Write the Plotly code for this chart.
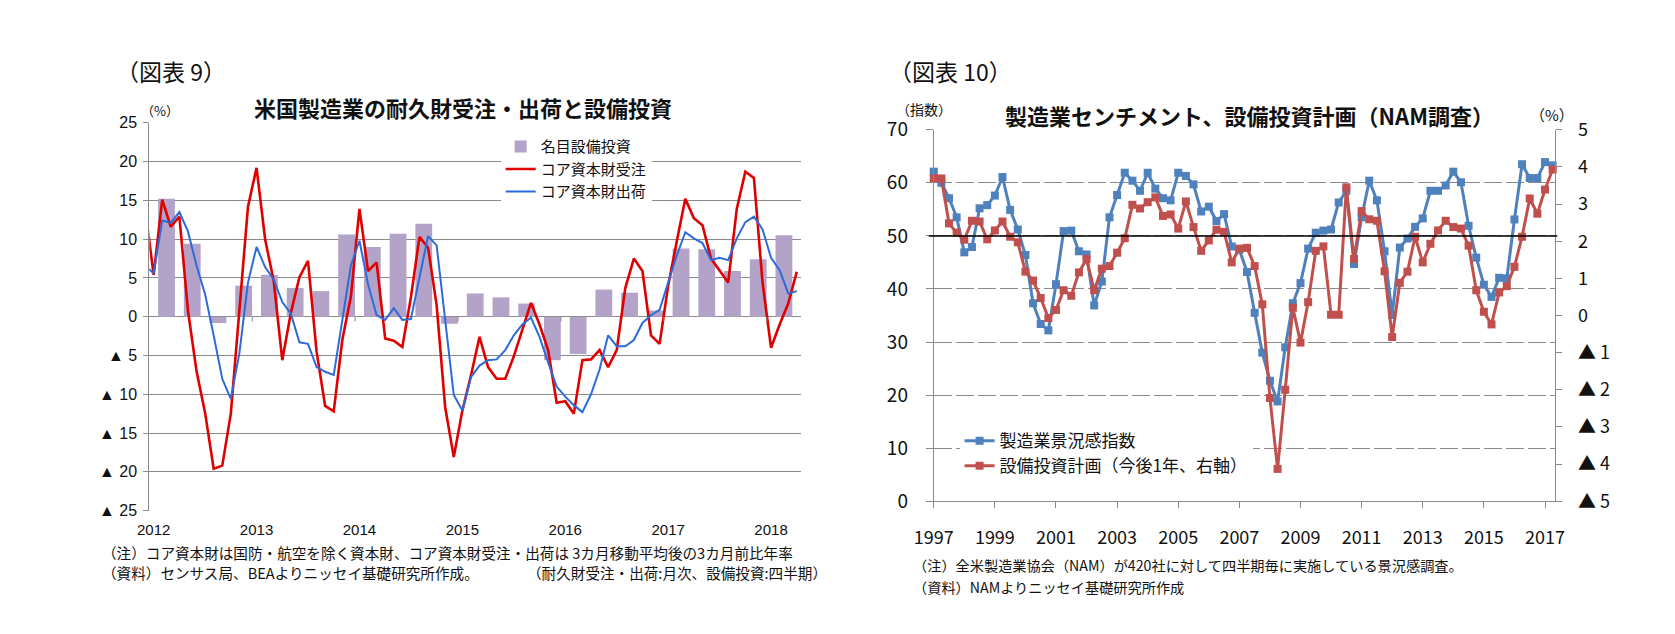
import plotly.graph_objects as go

# --- 図表9: 月次データ (2011年12月～2018年4月), 四半期データ (2012Q1～2018Q1)
start_year = 2012
first_month = -1  # 2011年12月から
orders = [14.0, 5.4, 15.1, 11.6, 12.9, 0.8, -7.0, -12.4, -19.6, -19.2, -12.5,
          0.5, 14.2, 19.2, 10.0, 4.6, -5.6, 0.5, 5.1, 7.2, -4.5,
          -11.5, -12.2, -3.0, 2.6, 13.9, 5.9, 7.0, -2.8, -3.1, -3.9,
          2.5, 10.3, 8.9, 1.5, -11.7, -18.1, -12.1, -7.6, -2.6, -6.5,
          -8.0, -8.0, -5.1, -1.8, 1.8, -1.0, -4.3, -11.1, -10.9, -12.5,
          -5.6, -5.5, -4.3, -6.5, -4.3, 3.7, 7.5, 5.9, -2.4, -3.5,
          4.0, 9.7, 15.2, 12.7, 11.8, 7.5, 6.0, 4.4, 13.9, 18.7,
          17.9, 4.5, -4.0, -1.0, 1.7, 5.8]
shipments = [6.6, 5.6, 12.4, 12.1, 13.5, 11.0, 6.6, 2.9, -2.4, -8.0, -10.6,
             -4.7, 4.4, 9.0, 6.4, 4.8, 1.9, 0.4, -3.3, -3.5, -6.5,
             -7.1, -7.5, -0.7, 6.6, 9.8, 4.2, 0.2, -0.4, 1.1, -0.4,
             -0.3, 4.9, 10.4, 9.2, -0.5, -10.1, -12.1, -7.8, -6.3, -5.6,
             -5.5, -4.3, -2.4, -1.0, -0.1, -2.6, -5.9, -9.0, -10.3, -11.4,
             -12.3, -10.0, -6.8, -2.4, -3.8, -3.8, -3.0, -0.8, 0.2, 0.9,
             4.4, 7.9, 10.9, 10.1, 9.5, 7.3, 7.6, 7.3, 10.1, 12.2,
             12.9, 11.3, 7.6, 6.0, 3.0, 3.3]
capex = [15.2, 9.4, -0.8, 4.0, 5.4, 3.7, 3.3, 10.6, 9.0, 10.7, 12.0, -0.9,
         3.0, 2.5, 1.7, -5.6, -4.8, 3.5, 3.1, 0.8, 8.8, 8.7, 5.9, 7.4, 10.5]
years9 = [2012, 2013, 2014, 2015, 2016, 2017, 2018]
yticks9 = [25, 20, 15, 10, 5, 0, -5, -10, -15, -20, -25]

# --- 図表10: 四半期データ (1997Q1～2017Q2)
nam_start = 1997
nam_index = [62.1, 60.0, 57.1, 53.5, 46.9, 47.9, 55.2, 55.8, 57.6, 61.1,
             54.9, 51.2, 46.4, 37.3, 33.4, 32.2, 40.9, 50.9, 51.0, 47.1,
             46.5, 36.9, 41.4, 53.5, 57.7, 61.9, 60.4, 58.5, 61.9, 58.9,
             57.1, 56.7, 61.9, 61.3, 59.7, 54.6, 55.5, 52.8, 54.1, 48.0,
             47.4, 43.2, 35.5, 28.0, 22.7, 18.8, 29.0, 37.3, 41.1, 47.6,
             50.6, 51.0, 51.2, 56.3, 58.5, 44.7, 53.5, 60.4, 56.7, 47.1,
             35.1, 47.8, 49.5, 51.7, 53.3, 58.5, 58.5, 59.5, 62.1, 60.1,
             51.9, 45.9, 40.8, 38.5, 42.1, 42.0, 53.1, 63.5, 60.9, 60.9,
             63.9, 63.3]
capex_plan = [3.69, 3.69, 2.48, 2.23, 2.04, 2.55, 2.53, 2.05, 2.29, 2.53,
              2.12, 1.97, 1.18, 0.94, 0.47, -0.07, 0.15, 0.68, 0.53, 1.16,
              1.52, 0.68, 1.26, 1.33, 1.69, 2.08, 2.98, 2.88, 3.05, 3.18,
              2.68, 2.72, 2.34, 3.07, 2.38, 1.74, 2.02, 2.31, 2.25, 1.43,
              1.80, 1.82, 1.33, 0.30, -2.22, -4.13, -2.00, 0.21, -0.73, 0.36,
              1.74, 1.86, 0.02, 0.02, 3.45, 1.52, 2.81, 2.59, 2.55, 1.19,
              -0.58, 0.88, 1.18, 2.12, 1.43, 1.93, 2.29, 2.55, 2.38, 2.34,
              1.88, 0.68, 0.10, -0.24, 0.62, 0.79, 1.31, 2.12, 3.15, 2.74,
              3.39, 3.93]
years10 = list(range(1997, 2018, 2))
yticks10_right = [5, 4, 3, 2, 1, 0, -1, -2, -3, -4, -5]


def tri(v):
    return str(v) if v >= 0 else "▲ " + str(-v)


W, H = 1675, 634
JP = "Noto Sans CJK JP"
GRID = "#8a8a8a"

month_x = [start_year + (first_month + k + 0.5) / 12 for k in range(len(orders))]
bar_x = [start_year + (3 * q + 2) / 12 for q in range(len(capex))]
quarter_x = [nam_start + q / 4 for q in range(len(nam_index))]

fig = go.Figure()

# 図表9
fig.add_trace(go.Bar(x=bar_x, y=capex, width=2 / 12 * 0.98, name="名目設備投資",
                     marker=dict(color="#b3a3c8", line=dict(width=0)),
                     xaxis="x", yaxis="y", legend="legend"))
fig.add_trace(go.Scatter(x=month_x, y=orders, mode="lines", name="コア資本財受注",
                         line=dict(color="#e00000", width=2.6),
                         xaxis="x", yaxis="y", legend="legend"))
fig.add_trace(go.Scatter(x=month_x, y=shipments, mode="lines", name="コア資本財出荷",
                         line=dict(color="#2c6bd8", width=2),
                         xaxis="x", yaxis="y", legend="legend"))

# 図表10
fig.add_trace(go.Scatter(x=quarter_x, y=nam_index, mode="lines+markers", name="製造業景況感指数",
                         line=dict(color="#4f81bd", width=3),
                         marker=dict(symbol="square", size=8, color="#4f81bd"),
                         cliponaxis=False, xaxis="x2", yaxis="y2", legend="legend2"))
fig.add_trace(go.Scatter(x=quarter_x, y=capex_plan, mode="lines+markers",
                         name="設備投資計画（今後1年、右軸）",
                         line=dict(color="#c0504d", width=3),
                         marker=dict(symbol="square", size=8, color="#c0504d"),
                         cliponaxis=False, xaxis="x2", yaxis="y3", legend="legend2"))

shapes = []
# year tick marks on the zero line
for yr in years9[1:]:
    shapes.append(dict(type="line", xref="x", yref="y", x0=yr, x1=yr, y0=0, y1=-0.6,
                       line=dict(color=GRID, width=1)))
shapes.append(dict(type="line", xref="x2 domain", yref="y2", x0=-0.008, x1=1.003, y0=50, y1=50,
                   line=dict(color="black", width=1.5)))

ann = []


def txt(s, x, y, size, anchor="left", bold=False, color="#111"):
    ann.append(dict(text=("<b>%s</b>" % s) if bold else s, x=x / W, y=1 - y / H,
                    xref="paper", yref="paper", xanchor=anchor, yanchor="middle",
                    showarrow=False, font=dict(family=JP, size=size, color=color)))


txt("（図表 9）", 88, 50, 23)
txt("（図表 10）", 874, 50, 23)
txt("米国製造業の耐久財受注・出荷と設備投資", 443, 88, 22, "center", True)
txt("（%）", 134, 91, 13, "center")
txt("製造業センチメント、設備投資計画（NAM調査）", 1243, 96, 22, "center", True)
txt("（指数）", 912, 90, 14, "center")
txt("（%）", 1551, 96, 15, "center")
txt("（注）コア資本財は国防・航空を除く資本財、コア資本財受注・出荷は 3カ月移動平均後の3カ月前比年率", 73, 553, 14.6)
txt("（資料）センサス局、BEAよりニッセイ基礎研究所作成。", 73, 574, 14.6)
txt("（耐久財受注・出荷:月次、設備投資:四半期）", 506, 574, 14.6)
txt("（注）全米製造業協会（NAM）が420社に対して四半期毎に実施している景況感調査。", 899, 566, 14.2)
txt("（資料）NAMよりニッセイ基礎研究所作成", 899, 589, 14.2)

fig.update_layout(
    width=W, height=H, margin=dict(l=0, r=0, t=0, b=0),
    paper_bgcolor="white", plot_bgcolor="white",
    font=dict(family=JP, color="#111"),
    barmode="overlay", shapes=shapes, annotations=ann,
    xaxis=dict(domain=[123.5 / W, 786.7 / W], range=[start_year, start_year + 76 / 12],
               tickvals=[y + 0.5 / 12 for y in years9], ticktext=[str(y) for y in years9],
               showgrid=False, zeroline=False, showline=False, ticks="",
               tickfont=dict(family="Liberation Sans", size=15, color="#111"),
               ticklabelstandoff=8, anchor="y", fixedrange=True),
    yaxis=dict(domain=[1 - 509.3 / H, 1 - 104.3 / H], range=[-25, 25],
               tickvals=yticks9, ticktext=[tri(v) for v in yticks9],
               showgrid=True, gridcolor=GRID, gridwidth=1, zeroline=False,
               showline=True, linecolor=GRID, ticks="outside", ticklen=5, tickcolor=GRID,
               tickfont=dict(family="Liberation Sans", size=16, color="#111"),
               ticklabelstandoff=3, anchor="x"),
    xaxis2=dict(domain=[921.7 / W, 1554.3 / W], range=[nam_start, nam_start + 20.34],
                tickvals=years10, ticktext=[str(y) for y in years10],
                showgrid=False, zeroline=False, showline=True, linecolor=GRID,
                ticks="outside", ticklen=6, tickcolor=GRID,
                tickfont=dict(family=JP, size=18, color="#111"),
                ticklabelstandoff=14, anchor="y2"),
    yaxis2=dict(domain=[1 - 499.5 / H, 1 - 111.5 / H], range=[0, 70], dtick=10,
                showgrid=True, gridcolor=GRID, gridwidth=1, griddash="18px,4px",
                zeroline=False, showline=True, linecolor=GRID,
                ticks="outside", ticklen=7, tickcolor=GRID,
                tickfont=dict(family=JP, size=19, color="#111"),
                ticklabelstandoff=14, anchor="x2"),
    yaxis3=dict(range=[-5, 5], tickvals=yticks10_right, ticktext=[tri(v) for v in yticks10_right],
                overlaying="y2", side="right", anchor="x2",
                showgrid=False, zeroline=False, showline=True, linecolor=GRID,
                ticks="outside", ticklen=6, tickcolor=GRID,
                tickfont=dict(family=JP, size=18, color="#111"),
                ticklabelstandoff=12),
    legend=dict(x=481 / W, y=1 - 112 / H, xanchor="left", yanchor="top",
                bgcolor="white", font=dict(family=JP, size=15, color="#111"),
                tracegroupgap=0, itemwidth=30),
    legend2=dict(x=948 / W, y=1 - 418 / H, xanchor="left", yanchor="top",
                 bgcolor="white", font=dict(family=JP, size=17, color="#111"),
                 tracegroupgap=0, itemwidth=30),
)

fig.write_html("out.html")
